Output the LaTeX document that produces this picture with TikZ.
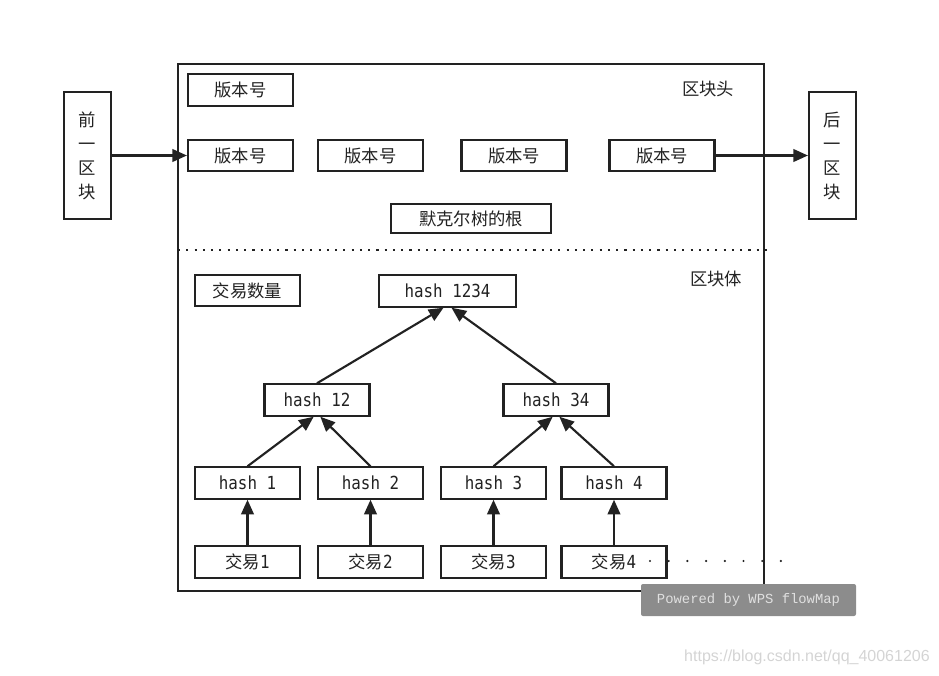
\documentclass[tikz,border=0pt]{standalone}
\usepackage{fontspec}
\setmainfont{Noto Sans CJK SC}
\newfontfamily\hashfont[FakeStretch=0.88]{DejaVu Sans Mono}
\newfontfamily\wpsfont{Liberation Mono}
\newfontfamily\urlfont{Liberation Sans}
\usetikzlibrary{arrows.meta}
\definecolor{wpsgray}{HTML}{8C8C8C}
\definecolor{urlgray}{HTML}{D4D4D4}
\definecolor{ink}{HTML}{222222}
\tikzset{
  blk/.style={draw=ink,text=ink,line width=1.6pt,minimum width=78.75pt,minimum height=23.5pt,
    inner sep=0pt,font=\fontsize{13}{15}\selectfont},
  hsh/.style={blk,font=\hashfont\fontsize{13.5}{15}\selectfont},
  link/.style={draw=ink,line width=1.6pt,-{Triangle[length=11pt,width=9.5pt]}}
}

\begin{document}
\begin{tikzpicture}[x=0.75pt,y=-0.75pt]
  \useasboundingbox (0,0) rectangle (939,675);

  % 区块外框与分隔线
  \draw[ink,line width=1.6pt] (178,64) rectangle (764,591);
  \draw[ink,line width=1.6pt,dash pattern=on 1.6pt off 4.6pt] (178,250)--(768,250);
  \node[text=ink,font=\fontsize{13}{15}\selectfont] (headlbl) at (708,89) {区块头};
  \node[text=ink,font=\fontsize{13}{15}\selectfont] (bodylbl) at (716,279) {区块体};

  % 前后区块
  \node[blk,minimum width=35.25pt,minimum height=95.25pt,align=center,
    font=\fontsize{13}{18}\selectfont] (prev) at (87.5,155.5) {前\\一\\区\\块};
  \node[blk,minimum width=35.25pt,minimum height=95.25pt,align=center,
    font=\fontsize{13}{18}\selectfont] (next) at (832.5,155.5) {后\\一\\区\\块};

  % 区块头
  \node[blk] (ver0) at (240.5,90) {版本号};
  \node[blk] (ver1) at (240.5,155.5) {版本号};
  \node[blk] (ver2) at (370.5,155.5) {版本号};
  \node[blk] (ver3) at (514,155.5) {版本号};
  \node[blk] (ver4) at (662,155.5) {版本号};
  \node[blk,minimum width=120pt,minimum height=22pt] (root) at (471,218.5) {默克尔树的根};
  \draw[link] (prev.east)--(ver1.west);
  \draw[link] (ver4.east)--(next.west);

  % 区块体
  \node[blk] (txcount) at (247.5,290.5) {交易数量};
  \node[hsh,minimum width=102.75pt] (h1234) at (447.5,291) {hash 1234};
  \node[hsh] (h12) at (317,400) {hash 12};
  \node[hsh] (h34) at (556,400) {hash 34};
  \draw[link] (h12.north)--([xshift=-3pt]h1234.south);
  \draw[link] (h34.north)--([xshift=3pt]h1234.south);

  \foreach \i/\x in {1/247.5,2/370.5,3/493.5,4/614}{
    \node[hsh] (h\i) at (\x,483) {hash \i};
    \node[blk,font=\hashfont\fontsize{13.5}{15}\selectfont] (tx\i) at (\x,562)
      {{\rmfamily\fontsize{13}{15}\selectfont 交易}\i};
    \draw[link] (tx\i.north)--(h\i.south);
  }
  \draw[link] (h1.north)--([xshift=-2.5pt]h12.south);
  \draw[link] (h2.north)--([xshift=2.5pt]h12.south);
  \draw[link] (h3.north)--([xshift=-2.5pt]h34.south);
  \draw[link] (h4.north)--([xshift=2.5pt]h34.south);

  % 省略号
  \foreach \k in {0,...,7}
    \fill[ink] (650+18.7*\k,561) circle (0.9pt);

  % 水印
  \node[fill=wpsgray,rounded corners=1.5pt,minimum width=161.25pt,minimum height=24pt,
    inner sep=0pt,text=white!88!black,font=\wpsfont\fontsize{10.4}{12}\selectfont]
    (wps) at (748.5,600) {Powered by WPS flowMap};
  \node[text=urlgray,font=\urlfont\fontsize{12}{14}\selectfont,anchor=east,inner sep=0pt]
    (url) at (930,657) {https://blog.csdn.net/qq\_40061206};
\end{tikzpicture}
\end{document}
